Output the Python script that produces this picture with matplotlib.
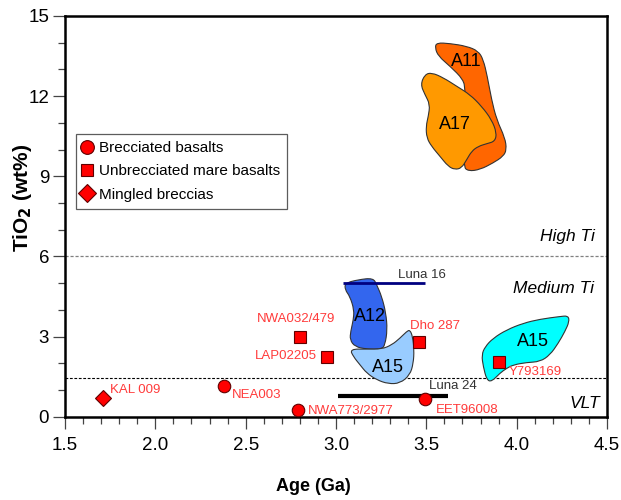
# TiO2 vs age plot for lunar basalts
import numpy as np
import matplotlib.pyplot as plt
from matplotlib.path import Path
from matplotlib.patches import PathPatch
from matplotlib.ticker import MultipleLocator

plt.rcParams['font.family'] = ['Liberation Sans', 'DejaVu Sans']

# meteorite samples (age in Ga, TiO2 in wt%)
brecciated_names = ['NEA003', 'NWA773/2977', 'EET96008']
brecciated_age = [2.38, 2.79, 3.49]
brecciated_tio2 = [1.16, 0.25, 0.66]

unbrecciated_names = ['NWA032/479', 'LAP02205', 'Dho 287', 'Y793169']
unbrecciated_age = [2.80, 2.95, 3.46, 3.90]
unbrecciated_tio2 = [3.00, 2.25, 2.81, 2.04]

mingled_names = ['KAL 009']
mingled_age = [1.71]
mingled_tio2 = [0.69]

# Luna sample ranges
luna_names = ['Luna 16', 'Luna 24']
luna_age_min = [3.04, 3.01]
luna_age_max = [3.49, 3.62]
luna_tio2 = [5.0, 0.78]
luna_colors = ['#000080', 'black']

# Apollo fields (outline vertices)
a11_age = [3.557, 3.631, 3.723, 3.787, 3.815, 3.837, 3.861, 3.889, 3.935, 3.944,
           3.926, 3.870, 3.797, 3.732, 3.704, 3.723, 3.714, 3.705, 3.631, 3.566, 3.548]
a11_tio2 = [14.0, 13.97, 13.87, 13.69, 13.37, 12.75, 11.87, 11.12, 10.44, 10.0,
            9.75, 9.50, 9.25, 9.19, 9.37, 11.12, 12.25, 12.62, 13.12, 13.5, 13.81]

a17_age = [3.492, 3.529, 3.594, 3.668, 3.741, 3.806, 3.861, 3.889, 3.880, 3.834,
           3.787, 3.751, 3.723, 3.695, 3.658, 3.621, 3.575, 3.529, 3.502, 3.498,
           3.511, 3.520, 3.492, 3.468]
a17_tio2 = [12.81, 12.88, 12.69, 12.37, 12.06, 11.62, 11.12, 10.63, 10.31, 10.22,
            10.12, 9.94, 9.62, 9.31, 9.25, 9.37, 9.75, 10.12, 10.44, 10.87,
            11.25, 11.69, 12.06, 12.44]

a12_age = [3.050, 3.123, 3.206, 3.225, 3.253, 3.276, 3.284, 3.271, 3.253, 3.170,
           3.105, 3.077, 3.081, 3.096, 3.100, 3.077, 3.050]
a12_tio2 = [5.00, 5.13, 5.19, 4.94, 4.50, 3.88, 3.25, 2.69, 2.53, 2.53,
            2.62, 2.88, 3.19, 3.63, 4.00, 4.50, 4.75]

a15a_age = [3.077, 3.170, 3.253, 3.309, 3.354, 3.391, 3.409, 3.424, 3.432, 3.428,
            3.409, 3.354, 3.289, 3.225, 3.170, 3.133, 3.096]
a15a_tio2 = [2.53, 2.53, 2.53, 2.69, 2.94, 3.19, 3.25, 3.00, 2.50, 2.00,
             1.56, 1.25, 1.23, 1.38, 1.63, 1.94, 2.25]

a15b_age = [3.834, 3.815, 3.806, 3.825, 3.870, 3.944, 4.036, 4.129, 4.239, 4.285,
            4.291, 4.267, 4.230, 4.184, 4.129, 4.055, 3.981, 3.944, 3.907, 3.861]
a15b_tio2 = [1.38, 1.88, 2.31, 2.62, 2.94, 3.25, 3.50, 3.65, 3.75, 3.78,
             3.56, 3.19, 2.75, 2.31, 2.06, 2.03, 1.94, 1.81, 1.63, 1.31]

high_ti = 6.0
low_ti = 1.45


def smooth_patch(xs, ys, color):
    # closed outline drawn with quadratic curves through midpoints
    pts = np.column_stack([xs, ys])
    nxt = np.roll(pts, -1, axis=0)
    mids = (pts + nxt) / 2
    verts = [mids[-1]]
    codes = [Path.MOVETO]
    for i in range(len(pts)):
        verts += [pts[i], mids[i]]
        codes += [Path.CURVE3, Path.CURVE3]
    verts.append(mids[-1])
    codes.append(Path.CLOSEPOLY)
    return PathPatch(Path(verts, codes), facecolor=color, edgecolor='#333333',
                     lw=0.8, joinstyle='round')


fig = plt.figure(figsize=(6.21, 5), dpi=100)
ax = fig.add_axes([0.1047, 0.1666, 0.8728, 0.8014])

ax.axhline(high_ti, color='#808080', ls=(0, (2.5, 1.5)), lw=0.9, zorder=1)
ax.axhline(low_ti, color='black', ls=(0, (2.5, 1.5)), lw=0.8, zorder=1)

fields = [(a11_age, a11_tio2, '#FF6600', 'A11', (3.723, 13.31)),
          (a17_age, a17_tio2, '#FF9900', 'A17', (3.658, 10.94)),
          (a12_age, a12_tio2, '#3366EE', 'A12', (3.188, 3.75)),
          (a15a_age, a15a_tio2, '#99CCFF', 'A15', (3.289, 1.85)),
          (a15b_age, a15b_tio2, '#00FFFF', 'A15', (4.092, 2.81))]
for xs, ys, col, name, pos in fields:
    ax.add_patch(smooth_patch(xs, ys, col))
    ax.text(pos[0], pos[1], name, fontsize=13, ha='center', va='center', zorder=3)

luna_offsets = [(-19, 6), (-14, 7)]
for i in range(len(luna_names)):
    ax.plot([luna_age_min[i], luna_age_max[i]], [luna_tio2[i], luna_tio2[i]],
            color=luna_colors[i], lw=2 if i == 0 else 3, solid_capstyle='butt', zorder=4)
    ax.annotate(luna_names[i], (luna_age_max[i], luna_tio2[i]), xytext=luna_offsets[i],
                textcoords='offset points', fontsize=9.5, color='#333333',
                ha='left', va='center')

mk = dict(color='red', markeredgecolor='#600000', markeredgewidth=0.8, ls='none', zorder=5)
ax.plot(brecciated_age, brecciated_tio2, marker='o', ms=9, label='Brecciated basalts', **mk)
ax.plot(unbrecciated_age, unbrecciated_tio2, marker='s', ms=8.5,
        label='Unbrecciated mare basalts', **mk)
ax.plot(mingled_age, mingled_tio2, marker='D', ms=8.5, label='Mingled breccias', **mk)

lab = dict(textcoords='offset points', fontsize=9.5, color='#FF3B3B', va='center')
offs = {'NEA003': (5.5, -6.7, 'left'), 'NWA773/2977': (7, -0.5, 'left'),
        'EET96008': (8, -8, 'left'), 'NWA032/479': (-2.5, 13, 'center'),
        'LAP02205': (-7, 0.5, 'right'), 'Dho 287': (-6.6, 11, 'left'),
        'Y793169': (7, -6.7, 'left'), 'KAL 009': (5, 6, 'left')}
for names, xs, ys in [(brecciated_names, brecciated_age, brecciated_tio2),
                      (unbrecciated_names, unbrecciated_age, unbrecciated_tio2),
                      (mingled_names, mingled_age, mingled_tio2)]:
    for n, x, y in zip(names, xs, ys):
        dx, dy, ha = offs[n]
        ax.annotate(n, (x, y), xytext=(dx, dy), ha=ha, **lab)

ax.text(4.43, 6.73, 'High Ti', style='italic', fontsize=12.5, ha='right', va='center')
ax.text(4.43, 4.81, 'Medium Ti', style='italic', fontsize=12.5, ha='right', va='center')
ax.text(4.46, 0.5, 'VLT', style='italic', fontsize=12.5, ha='right', va='center')

leg = ax.legend(loc='upper left', bbox_to_anchor=(0.0203, 0.7055), borderaxespad=0,
                fontsize=11, frameon=True, fancybox=False, handlelength=0.6,
                handletextpad=0.45, labelspacing=0.62, borderpad=0.45, markerscale=1.1)
leg.get_frame().set_edgecolor('#333333')
leg.get_frame().set_linewidth(0.9)

ax.set_xlim(1.5, 4.5)
ax.set_ylim(0, 15)
ax.xaxis.set_major_locator(MultipleLocator(0.5))
ax.xaxis.set_minor_locator(MultipleLocator(0.1))
ax.yaxis.set_major_locator(MultipleLocator(3))
ax.yaxis.set_minor_locator(MultipleLocator(1))
ax.xaxis.set_major_formatter(lambda v, p: f'{v:.1f}')
ax.tick_params(which='major', length=8.5, width=0.9, labelsize=13.5, color='#444444')
ax.tick_params(which='minor', length=5, width=0.9, color='#444444')
ax.tick_params(axis='x', pad=6)
ax.tick_params(axis='y', pad=3)
for s in ax.spines.values():
    s.set_linewidth(1.8)

ax.set_xlabel('Age (Ga)', fontsize=13, fontweight='bold')
ax.set_ylabel('TiO$_\\mathbf{2}$ (wt%)', fontsize=15, fontweight='bold')
ax.xaxis.set_label_coords(0.4576, -0.1747)
ax.xaxis.label.set_va('center')
ax.yaxis.set_label_coords(-0.0793, 0.546)
ax.yaxis.label.set_va('center')

fig.savefig('out.png', dpi=100)
